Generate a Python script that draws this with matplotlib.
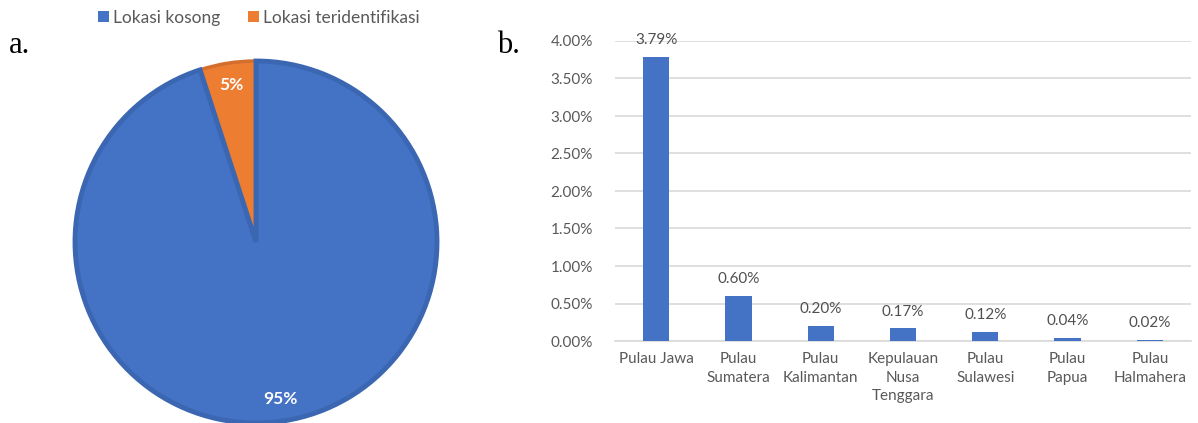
import matplotlib
matplotlib.use("Agg")
import matplotlib.pyplot as plt
from matplotlib.patches import Patch
import numpy as np

plt.rcParams['font.family'] = ['Lato', 'DejaVu Sans']

# ---- data ----
pie_labels = ["Lokasi kosong", "Lokasi teridentifikasi"]
pie_values = [95, 5]
pie_colors = ["#4472C4", "#ED7D31"]
pie_edges = ["#3B66B2", "#D46E2C"]

bar_categories = ["Pulau Jawa", "Pulau\nSumatera", "Pulau\nKalimantan",
                  "Kepulauan\nNusa\nTenggara", "Pulau\nSulawesi", "Pulau\nPapua",
                  "Pulau\nHalmahera"]
bar_values = [3.79, 0.60, 0.20, 0.17, 0.12, 0.04, 0.02]
y_ticks = [0.0, 0.5, 1.0, 1.5, 2.0, 2.5, 3.0, 3.5, 4.0]

W, H = 1198, 423
fig = plt.figure(figsize=(W / 100, H / 100), dpi=100)

def box(x0, y0, x1, y1):
    # pixel box (top-left origin) -> figure fraction rect
    return [x0 / W, 1 - y1 / H, (x1 - x0) / W, (y1 - y0) / H]

# ---- pie ----
cx, cy, R = 256, 242, 181
axp = fig.add_axes(box(cx - R, cy - R, cx + R, cy + R))
wedges, texts, autotexts = axp.pie(
    pie_values, colors=pie_colors, startangle=90, counterclock=False,
    autopct=lambda p: f"{p:.0f}%", pctdistance=0.88, radius=1,
    wedgeprops=dict(linewidth=3.5),
    textprops=dict(color="white", fontsize=12.5, fontweight="bold"))
for w, ec in zip(wedges, pie_edges):
    w.set_edgecolor(ec)
wedges[1].set_linewidth(2.5)
wedges[0].set_zorder(3)
wedges[0].set_facecolor("none")
# blue wedge face underneath, border drawn over the orange slice edge
axp.pie([pie_values[0], pie_values[1]], colors=[pie_colors[0], "none"],
        startangle=90, counterclock=False, radius=1,
        wedgeprops=dict(linewidth=0))
axp.set_xlim(-1, 1)
axp.set_ylim(-1, 1)
axp.set_aspect("equal")
axp.axis("off")

handles = [Patch(facecolor=c, edgecolor="none") for c in pie_colors]
fig.legend(handles, pie_labels, loc="center", bbox_to_anchor=(259 / W, 1 - 18 / H),
           ncol=2, frameon=False, fontsize=12.5, labelcolor="#595959",
           handlelength=0.6, handleheight=0.6, handletextpad=0.25,
           columnspacing=1.6)

fig.text(9 / W, 1 - 53 / H, "a.", family="Liberation Serif", fontsize=22,
         color="black", va="baseline")
fig.text(497 / W, 1 - 53 / H, "b.", family="Liberation Serif", fontsize=22,
         color="black", va="baseline")

# ---- bars ----
axb = fig.add_axes(box(615, 41, 1191, 341))
x = np.arange(len(bar_categories))
bars = axb.bar(x, bar_values, width=0.32, color="#4472C4", zorder=3)
axb.set_xlim(-0.5, len(bar_categories) - 0.5)
axb.set_ylim(0, 4.0)
axb.set_yticks(y_ticks)
axb.set_yticklabels([f"{v:.2f}%" for v in y_ticks])
axb.set_xticks(x)
axb.set_xticklabels(bar_categories, linespacing=1.4)
axb.tick_params(axis="both", length=0, labelsize=11, colors="#595959")
axb.tick_params(axis="y", pad=16)
axb.tick_params(axis="x", pad=8)
for lab in axb.get_xticklabels():
    lab.set_verticalalignment("top")
axb.grid(axis="y", color="#D9D9D9", linewidth=1.2, zorder=0)
for s in ["top", "right", "left"]:
    axb.spines[s].set_visible(False)
axb.spines["bottom"].set_color("#D9D9D9")
axb.spines["bottom"].set_linewidth(1.2)
for b, v in zip(bars, bar_values):
    axb.annotate(f"{v:.2f}%", (b.get_x() + b.get_width() / 2, v),
                 xytext=(0, 7), textcoords="offset points",
                 ha="center", va="bottom", fontsize=11, color="#505050")

fig.savefig("out.png", dpi=100, facecolor="white")
